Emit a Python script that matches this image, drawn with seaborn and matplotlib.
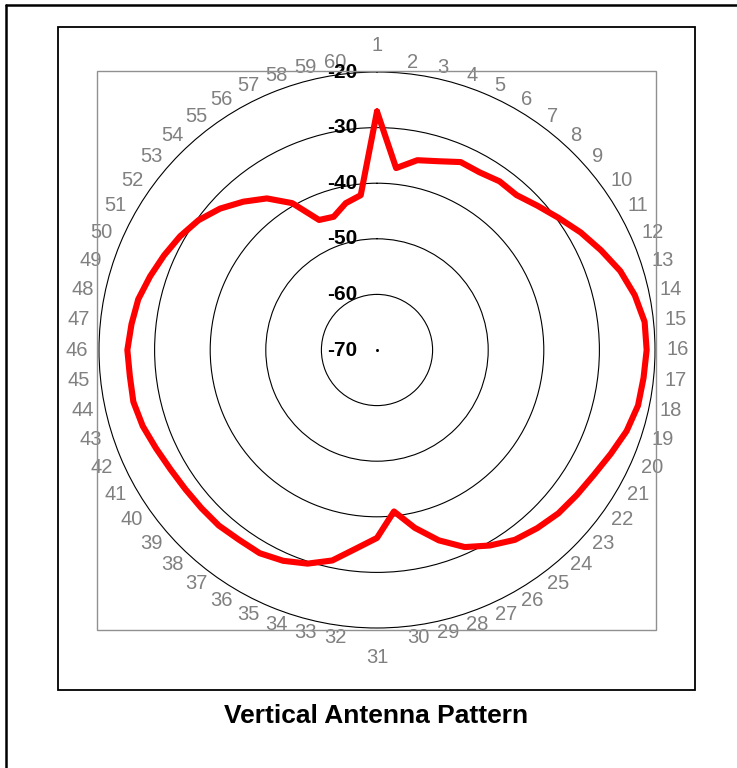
import numpy as np
import pandas as pd
import matplotlib
matplotlib.use("Agg")
import matplotlib.pyplot as plt
import matplotlib.transforms as mtransforms
from matplotlib.patches import Rectangle
from matplotlib.lines import Line2D
import seaborn as sns

# ---- data ----
categories = [str(i) for i in range(1, 61)]
gain_db = [-27.1, -37.1, -35.1, -34.3, -33.0, -33.1, -32.5, -32.5, -31.2, -29.6,
           -27.7, -25.9, -24.0, -22.6, -21.6, -21.5, -21.8, -22.0, -22.8, -24.0,
           -25.0, -25.6, -26.1, -26.9, -27.8, -29.4, -31.2, -34.0, -37.3, -40.8,
           -36.2, -34.1, -31.3, -29.6, -28.5, -27.8, -27.8, -27.5, -27.5, -27.4,
           -27.1, -26.5, -25.7, -25.2, -25.3, -25.1, -25.6, -26.1, -27.1, -28.1,
           -29.1, -30.3, -32.0, -34.1, -36.3, -39.5, -44.4, -44.8, -43.0, -42.0]
r_ticks = [-70, -60, -50, -40, -30, -20]
title = "Vertical Antenna Pattern"

sns.set_theme(style="white")
plt.rcParams['font.family'] = ['Liberation Sans', 'DejaVu Sans']
plt.rcParams['text.color'] = 'black'

W, H = 737, 768
DPI = 100
fig = plt.figure(figsize=(W / DPI, H / DPI), dpi=DPI)
fig.patch.set_facecolor("white")

def fx(px):
    return px / W

def fy(py):
    return 1 - py / H

# polar axes: center (377,350), radius 278 px
cx, cy, R = 377, 350, 278
ax = fig.add_axes([fx(cx - R), fy(cy + R), 2 * R / W, 2 * R / H], projection="polar")
ax.set_facecolor("none")
ax.set_theta_zero_location("N")
ax.set_theta_direction(-1)

n = len(categories)
theta = np.arange(n) * 2 * np.pi / n
df = pd.DataFrame({"theta": np.append(theta, theta[0]),
                   "gain": np.append(gain_db, gain_db[0])})
sns.lineplot(data=df, x="theta", y="gain", ax=ax, sort=False, estimator=None,
             color="#ff0000", lw=4.4, solid_joinstyle="round", solid_capstyle="round")

ax.set_ylim(r_ticks[0], r_ticks[-1])
ax.set_yticks(r_ticks[1:-1])
ax.set_yticklabels([])
ax.yaxis.grid(True, color="black", lw=0.8)
ax.xaxis.grid(False)
ax.spines["polar"].set_color("black")
ax.spines["polar"].set_linewidth(0.8)
ax.set_xlabel("")
ax.set_ylabel("")
ax.set_xticks([])

# category labels, Excel-style: side-aligned just outside the outer ring
gap = 11  # px
for th, lab in zip(theta, categories):
    s, c = np.sin(th), np.cos(th)
    if np.isclose(th, 0):
        ha, va, dx, dy = "center", "baseline", 0, 21
    elif np.isclose(th, np.pi):
        ha, va, dx, dy = "center", "top", 0, -20
    else:
        ha = "left" if th < np.pi else "right"
        va = "center"
        dx, dy = gap * s, gap * c
    tr = ax.transData + mtransforms.ScaledTranslation(dx / DPI, dy / DPI, fig.dpi_scale_trans)
    ax.text(th, r_ticks[-1], lab, transform=tr, ha=ha, va=va, fontsize=14.5,
            color="#808080", clip_on=False)

# radial value labels, right-aligned left of the vertical axis
offset = mtransforms.ScaledTranslation(-20 / DPI, 0, fig.dpi_scale_trans)
for v in r_ticks:
    ax.text(0, v, str(v), transform=ax.transData + offset, ha="right", va="center",
            fontsize=15, fontweight="bold", color="black", clip_on=False)
# small mark at the centre (axis origin)
ax.plot([0], [r_ticks[0]], marker="s", ms=1.0, color="black")

# plot area (gray) box
fig.add_artist(Rectangle((fx(97), fy(630)), fx(656) - fx(97), fy(71) - fy(630),
                         transform=fig.transFigure, fill=False, ec="#909090", lw=1.0))
# chart area box
fig.add_artist(Rectangle((fx(58), fy(690)), fx(695) - fx(58), fy(27) - fy(690),
                         transform=fig.transFigure, fill=False, ec="black", lw=1.3))
# outer border (left and top)
fig.add_artist(Line2D([fx(6), fx(6)], [fy(5), 0], transform=fig.transFigure, color="black", lw=1.8))
fig.add_artist(Line2D([fx(6), 1], [fy(5), fy(5)], transform=fig.transFigure, color="black", lw=1.8))

fig.text(fx(376), fy(716), title, ha="center", va="center", fontsize=19,
         fontweight="bold", color="black")

fig.savefig("out.png", dpi=DPI)
